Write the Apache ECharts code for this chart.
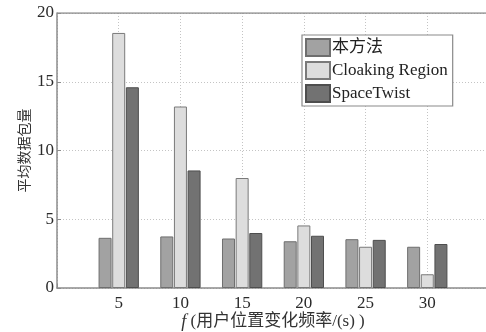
<!DOCTYPE html>
<html>
<head>
<meta charset="utf-8">
<script src="https://cdn.jsdelivr.net/npm/echarts@6/dist/echarts.min.js"></script>
<style>
  html, body { margin: 0; padding: 0; background: #fff; }
  #chart { width: 486px; height: 332px; }
</style>
</head>
<body>
<div id="chart"></div>
<script>
// Update frequency f (s) on the x axis
const frequencies = [5, 10, 15, 20, 25, 30];
const seriesNames = ['本方法', 'Cloaking Region', 'SpaceTwist'];
// Average number of packets per method
const ourMethod = [3.65, 3.75, 3.6, 3.4, 3.55, 3.0];
const cloakingRegion = [18.55, 13.2, 8.0, 4.55, 3.0, 1.0];
const spaceTwist = [14.6, 8.55, 4.0, 3.8, 3.5, 3.2];
const yTicks = [0, 5, 10, 15, 20];
const xTicks = [5, 10, 15, 20, 25, 30];

const serif = "'Liberation Serif', 'Noto Sans CJK SC', serif";
const pair = vals => frequencies.map((f, i) => [f, vals[i]]);

const fills = ['#a2a2a2', '#dddddd', '#727272'];
const borders = ['#6e6e6e', '#7a7a7a', '#4e4e4e'];
const values = [ourMethod, cloakingRegion, spaceTwist];

const chart = echarts.init(document.getElementById('chart'), null, { renderer: 'canvas' });

chart.setOption({
  animation: false,
  backgroundColor: '#fff',
  grid: { left: 57, right: -3, top: 13, bottom: 44, show: false, outerBoundsMode: 'none', containLabel: false },
  legend: {
    orient: 'vertical',
    left: 302,
    top: 35,
    padding: [3, 5, 3, 3],
    itemGap: 4,
    itemWidth: 24,
    itemHeight: 17,
    icon: 'rect',
    backgroundColor: '#fff',
    borderColor: '#8a8a8a',
    borderWidth: 1.2,
    borderRadius: 0,
    textStyle: { fontFamily: serif, fontSize: 17, lineHeight: 17, color: '#222', padding: [0, 0, 0, -3] },
    data: seriesNames
  },
  xAxis: {
    type: 'value',
    min: 0,
    max: 35,
    interval: 5,
    name: '{i|f} (用户位置变化频率/(s) )',
    nameLocation: 'middle',
    nameGap: 25,
    nameMoveOverlap: false,
    nameTextStyle: {
      fontFamily: serif, fontSize: 17, color: '#333',
      rich: { i: { fontStyle: 'italic', fontFamily: serif, fontSize: 18, color: '#333' } }
    },
    axisLine: { show: true, onZero: false, lineStyle: { color: '#8c8c8c', width: 1.5 } },
    axisTick: { show: true, inside: true, length: 4, lineStyle: { color: '#8c8c8c' } },
    axisLabel: {
      fontFamily: serif, fontSize: 17, color: '#2a2a2a', margin: 7,
      formatter: v => (xTicks.includes(v) ? String(v) : '')
    },
    splitLine: { show: true, lineStyle: { color: '#c4c4c4', type: [1, 2], width: 1 } }
  },
  yAxis: {
    type: 'value',
    min: 0,
    max: 20,
    interval: 5,
    name: '平均数据包量',
    nameLocation: 'middle',
    nameGap: 26,
    nameMoveOverlap: false,
    nameRotate: 90,
    nameTextStyle: { fontFamily: "'Noto Sans CJK SC', sans-serif", fontSize: 14, color: '#333' },
    axisLine: { show: true, lineStyle: { color: '#8c8c8c', width: 1.5 } },
    axisTick: { show: true, inside: true, length: 4, lineStyle: { color: '#8c8c8c' } },
    axisLabel: {
      fontFamily: serif, fontSize: 17, color: '#2a2a2a', margin: 3,
      formatter: v => (yTicks.includes(v) ? String(v) : '')
    },
    splitLine: { show: true, lineStyle: { color: '#c4c4c4', type: [1, 2], width: 1 } }
  },
  series: seriesNames.map((name, k) => ({
    name,
    type: 'bar',
    barWidth: 13,
    barGap: '5%',
    itemStyle: { color: fills[k], borderColor: borders[k], borderWidth: 1 },
    data: pair(values[k])
  })).concat([{
    // top frame line of the plot box
    type: 'line',
    silent: true,
    symbol: 'none',
    lineStyle: { color: '#8c8c8c', width: 1.5 },
    data: [[0, 20], [35, 20]],
    z: 5
  }])
});
</script>
</body>
</html>
